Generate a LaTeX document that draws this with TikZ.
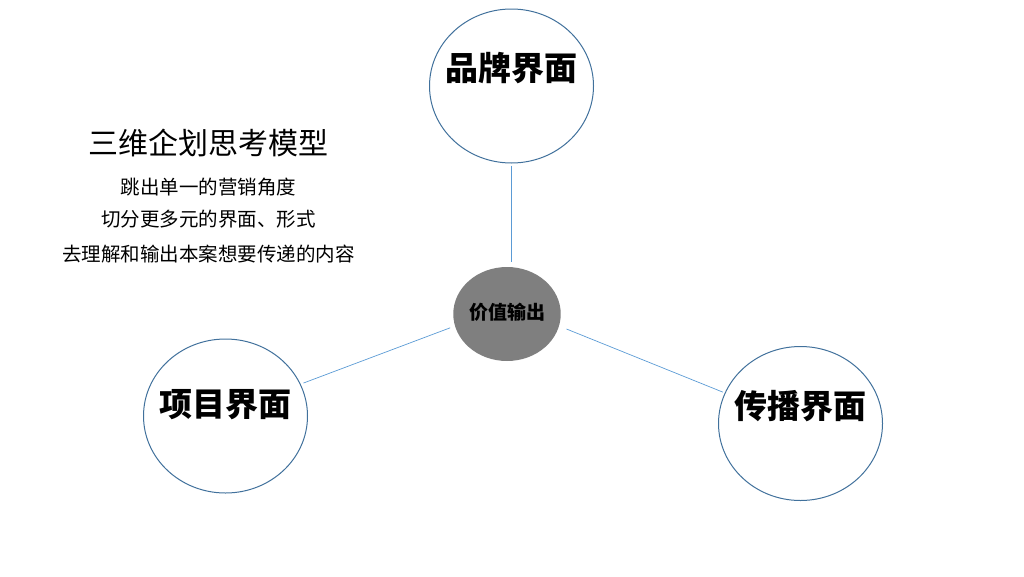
\documentclass[tikz,border=0pt]{standalone}
\usepackage{fontspec}
\setmainfont{Noto Sans CJK SC}
\usetikzlibrary{shapes.geometric}
\definecolor{ringblue}{HTML}{41719C}
\definecolor{linkblue}{HTML}{5B9BD5}
\definecolor{coregray}{HTML}{7F7F7F}

\begin{document}
\begin{tikzpicture}[
  x=1pt,y=-1pt,
  facet/.style={ellipse,draw=ringblue,line width=1pt,fill=white,
    minimum width=164pt,minimum height=154pt,inner sep=0pt},
  facetname/.style={font=\bfseries\fontsize{33}{36}\selectfont},
  core/.style={ellipse,fill=coregray,minimum width=100pt,minimum height=94pt,
    inner sep=0pt,font=\bfseries\fontsize{19}{22}\selectfont},
  note/.style={inner sep=0pt,anchor=center,font=\fontsize{19.5}{22}\selectfont},
  link/.style={draw=linkblue,line width=0.7pt}
]
  \useasboundingbox (0,0) rectangle (1024,576);

  \node[facet,label={[facetname,yshift=18pt]center:品牌界面}] (brand) at (511.5,86) {};
  \node[facet,label={[facetname,yshift=11pt]center:项目界面}] (project) at (225.5,416) {};
  \node[facet,label={[facetname,yshift=17pt]center:传播界面}] (spread) at (800.5,423.5) {};
  \node[core] (value) at (507,314) {\raisebox{5pt}{价值输出}};

  \node[note,font=\fontsize{30}{34}\selectfont] (title) at (208.5,143) {三维企划思考模型};
  \node[note] (lineA) at (208.5,187) {跳出单一的营销角度};
  \node[note] (lineB) at (208.5,219) {切分更多元的界面、形式};
  \node[note] (lineC) at (208.5,254) {去理解和输出本案想要传递的内容};

  \draw[link,shorten <=2pt,shorten >=5pt] (brand.south) -- (brand.south |- value.north);
  \draw[link,shorten <=3pt,shorten >=5pt] (project.23) -- (value.-167);
  \draw[link,shorten <=8pt,shorten >=2pt] (value.-13) -- (spread.158);
\end{tikzpicture}
\end{document}
